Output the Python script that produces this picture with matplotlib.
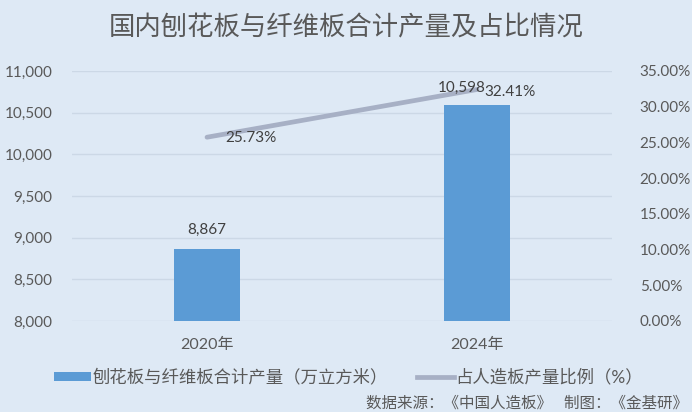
import matplotlib.pyplot as plt
from matplotlib.patches import Patch
from matplotlib.lines import Line2D
from matplotlib.ticker import FuncFormatter

plt.rcParams['font.family'] = ['Lato', 'Noto Sans CJK SC', 'DejaVu Sans']

# data
years = ['2020年', '2024年']
output = [8867, 10598]          # 万立方米
share = [25.73, 32.41]          # %
bar_name = '刨花板与纤维板合计产量（万立方米）'
line_name = '占人造板产量比例（%）'
title = '国内刨花板与纤维板合计产量及占比情况'
source = '数据来源：《中国人造板》   制图：《金基研》'

bg = '#DEE9F5'
bar_c = '#5B9BD5'
line_c = '#A7B0C5'
txt_c = '#595959'

fig = plt.figure(figsize=(6.92, 4.12), dpi=100, facecolor=bg)
ax = fig.add_axes([72/692, 1-321/412, 540/692, 250/412])
ax.set_facecolor(bg)
ax2 = ax.twinx()
ax2.patch.set_alpha(0)

x = range(len(years))
ax.bar(x, output, width=0.245, color=bar_c, zorder=2)
ax.set_xlim(-0.5, 1.5)
ax.set_ylim(8000, 11000)
ax.set_yticks(range(8000, 11001, 500))
ax.yaxis.set_major_formatter(FuncFormatter(lambda v, p: f'{int(v):,}'))
ax.set_xticks(list(x))
ax.set_xticklabels(years)
ax.grid(axis='y', color='#CCD8E6', linewidth=1, zorder=0)
ax.tick_params(axis='y', length=0, pad=14, labelsize=11, labelcolor=txt_c)
ax.tick_params(axis='x', length=0, pad=12, labelsize=11.5, labelcolor=txt_c)

ax2.plot(list(x), share, color=line_c, linewidth=3.4, solid_capstyle='round', zorder=3)
ax2.set_ylim(0, 35)
ax2.set_yticks(range(0, 36, 5))
ax2.yaxis.set_major_formatter(FuncFormatter(lambda v, p: f'{v:.2f}%'))
ax2.tick_params(axis='y', length=0, pad=20, labelsize=11, labelcolor=txt_c)

for a in (ax, ax2):
    for s in a.spines.values():
        s.set_visible(False)

# value labels
bar_off = [(0, 19), (-15, 17)]
for i, v in enumerate(output):
    ax2.annotate(f'{v:,}', xy=(i, v), xycoords=ax.transData, xytext=bar_off[i],
                 textcoords='offset pixels', ha='center', va='center',
                 fontsize=11, color='#404040', zorder=5)
line_off = [(18, -1), (7, -2)]
for i, v in enumerate(share):
    ax2.annotate(f'{v:.2f}%', xy=(i, v), xytext=line_off[i], textcoords='offset pixels',
                 ha='left', va='center', fontsize=11, color='#404040', zorder=5)

fig.text(0.5, 1-28/412, title, ha='center', va='center', fontsize=19, color=txt_c)

handles = [Patch(facecolor=bar_c, edgecolor='none'),
           Line2D([0], [0], color=line_c, linewidth=3.4)]
fig.legend(handles, [bar_name, line_name], loc='center', bbox_to_anchor=(0.504, 1-377/412),
           ncol=2, frameon=False, fontsize=12.5, handlelength=2.1, handleheight=0.4,
           handletextpad=0.1, columnspacing=1.7, labelcolor=txt_c)

fig.text(688/692, 1-403/412, source, ha='right', va='center', fontsize=11.2, color=txt_c)

fig.savefig('out.png', dpi=100, facecolor=bg)
